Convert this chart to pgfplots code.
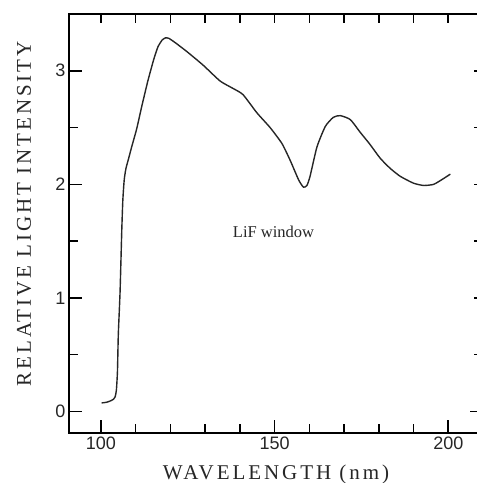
\documentclass[border=0pt]{standalone}
\usepackage{fontspec}
\setmainfont{Liberation Serif}
\newfontfamily\ticksf{Liberation Sans}
\newfontfamily\spacedserif{Liberation Serif}[LetterSpace=14]
\usepackage{pgfplots}
\pgfplotsset{compat=1.18}

% spectrum of the lamp through a LiF window
\pgfplotstableread{
x y
100.2 0.075
101.5 0.08
102.5 0.09
103.5 0.105
104.1 0.13
104.45 0.19
104.75 0.35
105.0 0.68
105.5 1.05
106.0 1.60
106.3 1.86
106.7 2.04
107.2 2.14
107.9 2.22
108.85 2.33
110.3 2.49
111.7 2.68
113.5 2.91
115.2 3.10
116.4 3.21
117.6 3.27
118.6 3.29
119.6 3.285
121.5 3.245
124.7 3.17
129.4 3.05
134.3 2.91
138.0 2.845
140.9 2.79
144.9 2.63
148.7 2.50
152.1 2.36
154.5 2.21
156.9 2.04
158.3 1.975
159.3 1.99
160.2 2.07
162.2 2.33
164.6 2.51
166.9 2.59
168.9 2.605
171.8 2.57
174.6 2.46
177.5 2.35
180.4 2.23
183.3 2.14
186.2 2.07
190.0 2.01
192.9 1.99
195.8 2.00
198.6 2.05
200.6 2.09
}\spectrum

\begin{document}
\begin{tikzpicture}
\begin{axis}[
  at={(69pt,-433pt)}, anchor=south west,
  scale only axis, width=414pt, height=419pt,
  xmin=90.8, xmax=210, ymin=-0.19, ymax=3.5,
  clip=false,
  axis line style={line width=1.3pt, black},
  tick align=inside,
  xtick={100,150,200},
  ytick={0,1,2,3},
  minor xtick={110,120,130,140,160,170,180,190},
  minor ytick={0.5,1.5,2.5},
  xtick pos=left, ytick pos=left,
  major tick length=13pt, minor tick length=9pt,
  every tick/.style={line width=1.6pt, black},
  every minor tick/.style={line width=1.6pt, black},
  ticklabel style={font=\ticksf\fontsize{18}{18}\selectfont, black!85},
  /pgf/number format/assume math mode=true,
  every axis x label/.style={at={(axis description cs:0.5,0)}, anchor=base, yshift=-46pt,
    font=\spacedserif\fontsize{21}{21}\selectfont, black!85},
  every axis y label/.style={at={(axis description cs:0,0.523)}, xshift=-38pt, rotate=90, anchor=base,
    font=\spacedserif\fontsize{21}{21}\selectfont, black!85},
  xlabel={WAVELENGTH (nm)},
  ylabel={RELATIVE LIGHT INTENSITY},
]
\addplot[line width=1.4pt, black!85, smooth, tension=0.35] table[x=x, y=y] {\spectrum};
\node[anchor=base west, font=\fontsize{16.5}{16.5}\selectfont, black!85] at (axis cs:137.0,1.53) {LiF window};

% tick marks on the top and right edges, pointing into the frame
\begin{scope}[line width=1.6pt, black, line cap=butt]
  \pgfplotsinvokeforeach{100,110,...,200}{\draw (axis cs:#1,3.5) -- ++(0pt,-9pt);}
  \draw (axis cs:210,0) -- ++(-13pt,0pt);
  \pgfplotsinvokeforeach{0.5,1,1.5,2,2.5,3}{\draw (axis cs:210,#1) -- ++(-9pt,0pt);}
\end{scope}
\end{axis}
\pgfresetboundingbox
\path[use as bounding box] (0pt,-483pt) rectangle (477pt,0pt);
\end{tikzpicture}
\end{document}
